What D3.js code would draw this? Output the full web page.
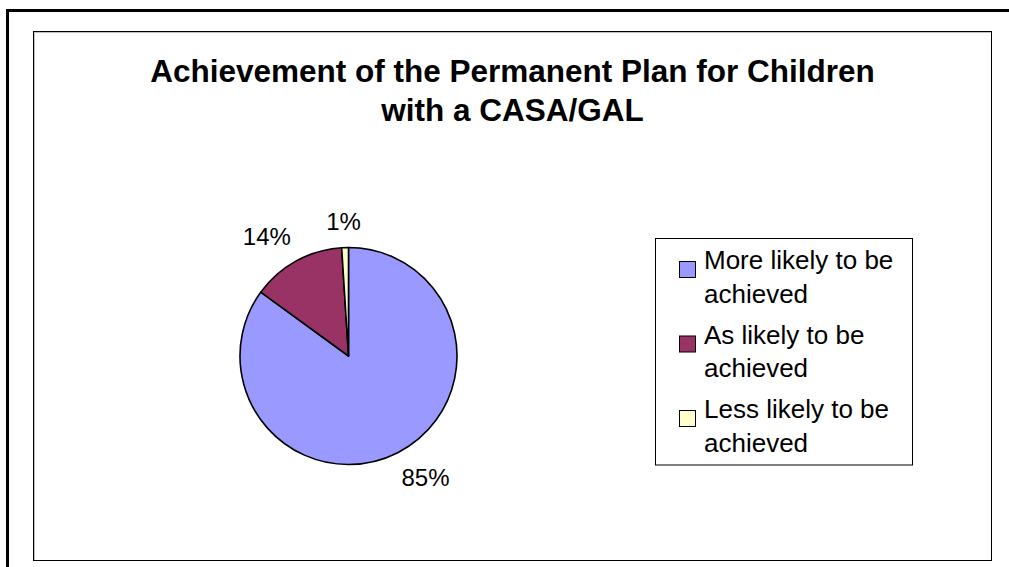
<!DOCTYPE html>
<html>
<head>
<meta charset="utf-8">
<script src="https://cdn.jsdelivr.net/npm/d3@7"></script>
<style>
  html, body { margin: 0; padding: 0; background: #fff; }
  svg { display: block; font-family: Arial, "Liberation Sans", sans-serif; }
</style>
</head>
<body>
<svg id="chart" width="1009" height="567"></svg>
<script>
// Chart data
const titleLines = ["Achievement of the Permanent Plan for Children", "with a CASA/GAL"];
const categories = ["More likely to be achieved", "As likely to be achieved", "Less likely to be achieved"];
const legendLines = [["More likely to be", "achieved"], ["As likely to be", "achieved"], ["Less likely to be", "achieved"]];
const percents = [85, 14, 1];
const colors = ["#9999FF", "#993366", "#FFFFCC"];

const svg = d3.select("#chart");
const W = 1009, H = 567;

svg.append("rect").attr("width", W).attr("height", H).attr("fill", "#fff");

// outer frame (runs past the right/bottom edge)
svg.append("rect")
  .attr("x", 7.5).attr("y", 10.5)
  .attr("width", 1100).attr("height", 700)
  .attr("fill", "none").attr("stroke", "#000").attr("stroke-width", 3);

// chart area frame
svg.append("rect")
  .attr("x", 33.5).attr("y", 31.5)
  .attr("width", 958).attr("height", 529)
  .attr("fill", "#fff").attr("stroke", "#000").attr("stroke-width", 1);
svg.append("path")
  .attr("d", "M34.5,560 V32.5 H991")
  .attr("fill", "none").attr("stroke", "#c0c0c0").attr("stroke-width", 1);

// title, centred on the chart area
const title = svg.append("text")
  .attr("text-anchor", "middle")
  .attr("font-weight", "bold")
  .attr("font-size", 31.5)
  .attr("fill", "#000");
titleLines.forEach((t, i) => {
  title.append("tspan").attr("x", 512.5).attr("y", 82 + i * 39).text(t);
});

// pie
const cx = 348.5, cy = 356, r = 108.5;
const pie = d3.pie().sort(null).value(d => d)(percents);
const arc = d3.arc().innerRadius(0).outerRadius(r);
const g = svg.append("g").attr("transform", `translate(${cx},${cy})`);

g.selectAll("path.slice")
  .data(pie)
  .join("path")
  .attr("class", "slice")
  .attr("d", arc)
  .attr("fill", (d, i) => colors[i])
  .attr("stroke", "#000")
  .attr("stroke-width", 1.6)
  .attr("stroke-linejoin", "round");

// percentage labels: the label box's inner corner sits just outside the rim
// on each slice's mid-angle
const labelFont = 24;
const gap = 13;
g.selectAll("text.pct")
  .data(pie)
  .join("text")
  .attr("class", "pct")
  .attr("font-size", labelFont)
  .attr("fill", "#000")
  .attr("text-anchor", "middle")
  .text(d => d.data + "%")
  .each(function (d) {
    const a = (d.startAngle + d.endAngle) / 2;
    const dx = Math.sin(a), dy = -Math.cos(a);
    const hw = this.getComputedTextLength() / 2, hh = labelFont * 0.56;
    const px = dx * (r + gap), py = dy * (r + gap);
    const x = px + hw * Math.sign(dx) * Math.min(1, 2 * Math.abs(dx));
    const y = py + hh * Math.sign(dy) * Math.min(1, 2 * Math.abs(dy));
    d3.select(this).attr("x", x).attr("y", y + labelFont * 0.35);
  });

// legend
const lg = svg.append("g");
lg.append("rect")
  .attr("x", 655.5).attr("y", 238.5)
  .attr("width", 257).attr("height", 226.5)
  .attr("fill", "#fff").attr("stroke", "#000").attr("stroke-width", 1);

const item = lg.selectAll("g.item")
  .data(categories)
  .join("g")
  .attr("class", "item")
  .attr("transform", (d, i) => `translate(0,${i * 74.5})`);

item.append("rect")
  .attr("x", 679.5).attr("y", 261.5)
  .attr("width", 16).attr("height", 16)
  .attr("fill", (d, i) => colors[i])
  .attr("stroke", "#000").attr("stroke-width", 1);

item.append("text")
  .attr("font-size", 26)
  .attr("fill", "#000")
  .each(function (d, i) {
    legendLines[i].forEach((line, j) => {
      d3.select(this).append("tspan")
        .attr("x", 704).attr("y", 269 + j * 33.5)
        .text(line);
    });
  });
</script>
</body>
</html>
